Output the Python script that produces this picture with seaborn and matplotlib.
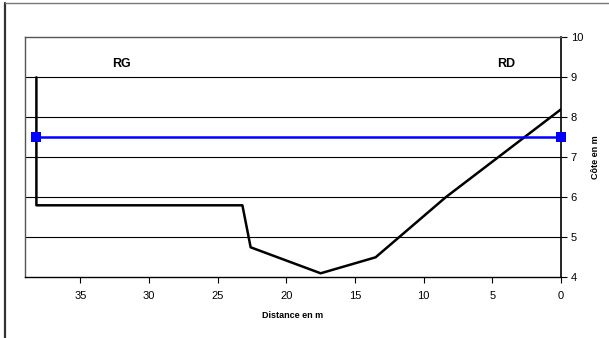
#!/usr/bin/env python3

import matplotlib
matplotlib.use('Agg')
import matplotlib.pyplot as plt
import seaborn as sns
import numpy as np
import pandas as pd
from matplotlib.lines import Line2D

# profil en travers (distance depuis RD, cote)
distance = [38.2, 38.2, 23.2, 22.6, 17.5, 13.5, 8.4, 0.0]
cote = [9.0, 5.8, 5.8, 4.75, 4.1, 4.5, 6.0, 8.2]

# niveau d'eau
eau_distance = [38.2, 0.0]
eau_cote = [7.5, 7.5]

x_ticks = [35, 30, 25, 20, 15, 10, 5, 0]
y_ticks = [4, 5, 6, 7, 8, 9, 10]


def main():
    sns.set_style('white')
    plt.rcParams['font.family'] = ['Liberation Sans', 'DejaVu Sans']
    plt.rcParams['text.color'] = 'black'
    plt.rcParams['axes.labelcolor'] = 'black'
    plt.rcParams['xtick.color'] = 'black'
    plt.rcParams['ytick.color'] = 'black'

    fig = plt.figure(figsize=(6.09, 3.38), dpi=100)
    ax = fig.add_axes([0.0406, 0.1796, 0.8806, 0.71])

    df = pd.DataFrame({'distance': distance, 'cote': cote})
    dfe = pd.DataFrame({'distance': eau_distance, 'cote': eau_cote})

    for y in [5, 6, 7, 8, 9]:
        ax.axhline(y, color='black', lw=0.8, zorder=1)

    sns.lineplot(x='distance', y='cote', data=df, sort=False, estimator=None,
                 color='black', lw=1.8, ax=ax, zorder=3)
    sns.lineplot(x='distance', y='cote', data=dfe, sort=False, estimator=None,
                 color='#0000ff', lw=1.8, marker='s', markersize=7,
                 markeredgewidth=0, ax=ax, zorder=4, clip_on=False)

    ax.set_xlim(39.05, 0)
    ax.set_ylim(4, 10)
    ax.set_xticks(x_ticks)
    ax.set_yticks(y_ticks)
    ax.yaxis.tick_right()
    ax.yaxis.set_label_position('right')
    ax.tick_params(axis='both', which='major', labelsize=8, length=4,
                   width=0.8, color='black', direction='out',
                   bottom=True, right=True, left=False, pad=3)
    ax.tick_params(axis='x', pad=6)

    ax.set_xlabel('Distance en m', fontsize=6.5, fontweight='bold',
                  labelpad=7)
    ax.set_ylabel('Côte en m', fontsize=6.5, fontweight='bold', labelpad=6,
                  rotation=90)

    for side in ['left', 'top']:
        ax.spines[side].set_color('#555555')
        ax.spines[side].set_linewidth(1.0)
    ax.spines['right'].set_color('black')
    ax.spines['right'].set_linewidth(1.2)
    ax.spines['bottom'].set_color('black')
    ax.spines['bottom'].set_linewidth(1.0)

    ax.text(32, 9.34, 'RG', fontsize=9, fontweight='bold',
            ha='center', va='center')
    ax.text(4.0, 9.34, 'RD', fontsize=9, fontweight='bold',
            ha='center', va='center')

    # cadre du graphique
    fig.add_artist(Line2D([4.5 / 609, 4.5 / 609], [0, 1 - 3 / 338],
                          transform=fig.transFigure, color='#333333', lw=1.6))
    fig.add_artist(Line2D([4.5 / 609, 1], [1 - 3 / 338, 1 - 3 / 338],
                          transform=fig.transFigure, color='#777777', lw=1.0))

    fig.savefig('out.png', dpi=100)


if __name__ == "__main__":
    main()
